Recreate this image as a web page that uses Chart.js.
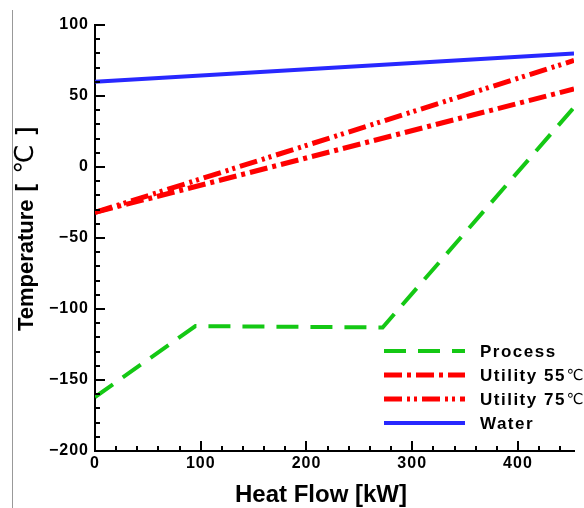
<!DOCTYPE html>
<html>
<head>
<meta charset="utf-8">
<script src="https://cdn.jsdelivr.net/npm/chart.js@4.4.1/dist/chart.umd.min.js"></script>
<style>
  html, body { margin: 0; padding: 0; background: #fff; }
  #wrap { width: 584px; height: 508px; }
</style>
</head>
<body>
<div id="wrap"><canvas id="myChart" width="584" height="508"></canvas></div>
<script>
// heat flow [kW] / temperature [°C] for each stream
var processX = [0, 95, 272, 453];
var processY = [-162, -112, -113, 42];
var utility55X = [0, 453];
var utility55Y = [-32, 55];
var utility75X = [0, 453];
var utility75Y = [-32, 75];
var waterX = [0, 453];
var waterY = [60, 80];

var xTicks = [0, 100, 200, 300, 400];
var yTicks = [-200, -150, -100, -50, 0, 50, 100];

var xTitle = 'Heat Flow [kW]';
var yTitle = ['Temperature', '[', '℃', ']'];

function pts(xs, ys) {
    return xs.map(function (x, i) { return { x: x, y: ys[i] }; });
}

var fontName = '"Liberation Sans", Arial, sans-serif';
var thinFont = '"DejaVu Sans", "Noto Sans CJK KR", sans-serif';

// a little letter spacing for the tick labels
var spacing = {
    id: 'spacing',
    beforeDraw: function (chart) { chart.ctx.letterSpacing = '1px'; }
};

// inward tick marks, major + minor, and both axis titles
var innerTicks = {
    id: 'innerTicks',
    afterDraw: function (chart) {
        var ctx = chart.ctx, a = chart.chartArea;
        var xs = chart.scales.x, ys = chart.scales.y;
        ctx.save();
        ctx.strokeStyle = '#000';
        ctx.lineWidth = 2;
        ctx.beginPath();
        for (var v = 0; v <= xs.max; v += 20) {
            var px = Math.round(xs.getPixelForValue(v));
            var len = (v % 100 === 0) ? 10 : 5;
            ctx.moveTo(px, a.bottom);
            ctx.lineTo(px, a.bottom - len);
        }
        for (var w = ys.min; w <= ys.max; w += 10) {
            var py = Math.round(ys.getPixelForValue(w));
            var l2 = (w % 50 === 0) ? 10 : 5;
            ctx.moveTo(a.left, py);
            ctx.lineTo(a.left + l2, py);
        }
        ctx.stroke();

        // thin frame line at the far left of the page
        ctx.strokeStyle = '#999';
        ctx.lineWidth = 1;
        ctx.beginPath();
        ctx.moveTo(12.5, 10);
        ctx.lineTo(12.5, chart.height);
        ctx.stroke();

        ctx.letterSpacing = '0px';
        ctx.fillStyle = '#000';
        ctx.textBaseline = 'alphabetic';

        // x title
        ctx.font = 'bold 24px ' + fontName;
        ctx.textAlign = 'center';
        ctx.fillText(xTitle, 321, 502);

        // y title, rotated, with a light degree sign
        ctx.translate(33, 229);
        ctx.rotate(-Math.PI / 2);
        ctx.textAlign = 'left';
        var gaps = [8, 10, 10, 0];
        var fonts = ['bold 22px ' + fontName, 'bold 23px ' + fontName, '26px ' + thinFont, 'bold 23px ' + fontName];
        var total = 0;
        yTitle.forEach(function (t, i) {
            ctx.font = fonts[i];
            total += ctx.measureText(t).width + gaps[i];
        });
        var cx = -total / 2;
        yTitle.forEach(function (t, i) {
            ctx.font = fonts[i];
            ctx.fillText(t, cx, 0);
            cx += ctx.measureText(t).width + gaps[i];
        });
        ctx.restore();
    }
};

// legend drawn inside the plot, bottom right
var boxLegend = {
    id: 'boxLegend',
    afterDraw: function (chart) {
        var ctx = chart.ctx, a = chart.chartArea;
        ctx.save();
        ctx.textBaseline = 'middle';
        ctx.textAlign = 'left';
        chart.data.datasets.forEach(function (ds, i) {
            var y = a.bottom - 100 + i * 24;
            ctx.strokeStyle = ds.borderColor;
            ctx.lineWidth = ds.borderWidth;
            ctx.setLineDash(ds.borderDash || []);
            ctx.beginPath();
            ctx.moveTo(a.right - 190, y);
            ctx.lineTo(a.right - 109, y);
            ctx.stroke();
            ctx.setLineDash([]);
            ctx.fillStyle = '#000';
            var txt = ds.label, unit = '';
            if (txt.slice(-1) === '℃') { unit = '℃'; txt = txt.slice(0, -1); }
            ctx.font = 'bold 17px ' + fontName;
            ctx.letterSpacing = '1.5px';
            ctx.fillText(txt, a.right - 94, y + 1);
            if (unit) {
                var tw = ctx.measureText(txt).width;
                ctx.letterSpacing = '0px';
                ctx.font = '15px ' + thinFont;
                ctx.fillText(unit, a.right - 94 + tw + 1, y + 1);
            }
        });
        ctx.restore();
    }
};

var ctx = document.getElementById('myChart').getContext('2d');
var myChart = new Chart(ctx, {
    type: 'line',
    data: {
        datasets: [{
            label: 'Process',
            data: pts(processX, processY),
            borderColor: '#14c814',
            borderWidth: 4,
            borderDash: [22, 12]
        }, {
            label: 'Utility 55℃',
            data: pts(utility55X, utility55Y),
            borderColor: '#ff0000',
            borderWidth: 5,
            borderDash: [18, 5, 4, 5]
        }, {
            label: 'Utility 75℃',
            data: pts(utility75X, utility75Y),
            borderColor: '#ff0000',
            borderWidth: 5,
            borderDash: [18, 5, 3, 4, 3, 5]
        }, {
            label: 'Water',
            data: pts(waterX, waterY),
            borderColor: '#2828ff',
            borderWidth: 4
        }]
    },
    options: {
        responsive: false,
        animation: false,
        devicePixelRatio: 1,
        layout: { padding: { left: 0, top: 25, right: 10, bottom: 0 } },
        elements: {
            point: { radius: 0 },
            line: { tension: 0, borderCapStyle: 'butt' }
        },
        plugins: {
            legend: { display: false },
            tooltip: { enabled: false }
        },
        scales: {
            x: {
                type: 'linear',
                min: 0,
                max: 453,
                grid: { display: false, drawTicks: false },
                border: { display: true, color: '#000', width: 2 },
                afterBuildTicks: function (s) {
                    s.ticks = xTicks.map(function (v) { return { value: v }; });
                },
                ticks: {
                    padding: 3,
                    color: '#000',
                    font: { family: fontName, size: 16, weight: 'bold' }
                },
                afterFit: function (s) { s.height = 57; }
            },
            y: {
                type: 'linear',
                min: -200,
                max: 100,
                grid: { display: false, drawTicks: false },
                border: { display: true, color: '#000', width: 2 },
                afterBuildTicks: function (s) {
                    s.ticks = yTicks.map(function (v) { return { value: v }; });
                },
                ticks: {
                    padding: 6,
                    color: '#000',
                    font: { family: fontName, size: 16, weight: 'bold' },
                    callback: function (v) { return v < 0 ? '\u2212' + Math.abs(v) : String(v); }
                },
                afterFit: function (s) { s.width = 95; }
            }
        }
    },
    plugins: [spacing, innerTicks, boxLegend]
});
</script>
</body>
</html>
